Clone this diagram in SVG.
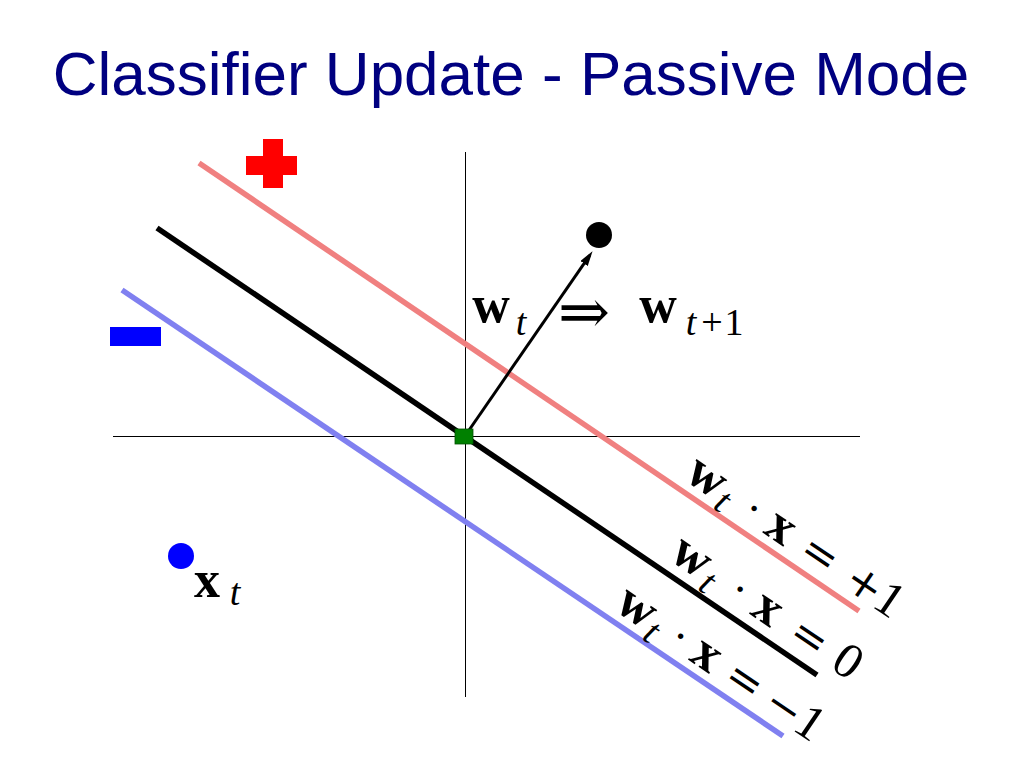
<svg xmlns="http://www.w3.org/2000/svg" width="1024" height="768" viewBox="0 0 1024 768">
<defs>
<style>
.title{font-family:"Liberation Sans",Arial,sans-serif;font-size:62px;fill:#000080}
.m{font-family:"Liberation Serif","Times New Roman",serif;fill:#000;text-anchor:middle}
.b{font-weight:bold;font-size:52px}
.i{font-style:italic;font-size:38px}
.dot{font-size:46px}
.op{font-family:"DejaVu Serif","Liberation Serif",serif;font-size:44px}
.arr{font-family:"DejaVu Serif","Liberation Serif",serif;font-size:62px}
.d{font-size:50px}
.ds{font-size:38px}
.axis{stroke:#000;stroke-width:1;fill:none;shape-rendering:crispEdges}
.bound{fill:none;stroke-width:5.5;stroke-linecap:butt}
</style>
<marker id="ah" markerUnits="userSpaceOnUse" markerWidth="16" markerHeight="10" refX="10" refY="4.5" orient="auto">
<path d="M0,0 L15,4.5 L0,9 z" fill="#000"/>
</marker>
</defs>
<rect width="1024" height="768" fill="#fff"/>
<text id="title" class="title" x="511" y="95" text-anchor="middle">Classifier Update - Passive Mode</text>

<g id="axes">
<line class="axis" x1="465.5" y1="152" x2="465.5" y2="697"/>
<line class="axis" x1="113" y1="436.5" x2="860" y2="436.5"/>
</g>

<g id="connectors">
<line id="line-plus1" class="bound" x1="199" y1="163" x2="859" y2="611" stroke="#F08080"/>
<line id="line-minus1" class="bound" x1="122" y1="290" x2="783" y2="736" stroke="#8080F0"/>
<line id="line-zero" class="bound" x1="157" y1="228" x2="817" y2="675" stroke="#000" stroke-width="6"/>
<line id="arrow-w" x1="465" y1="436" x2="589.7" y2="255.3" stroke="#000" stroke-width="3" marker-end="url(#ah)"/>
</g>

<g id="plus-sign" fill="#FF0000">
<rect x="263" y="139" width="20" height="49"/>
<rect x="246" y="156" width="51" height="19"/>
</g>
<g id="minus-sign">
<rect x="110" y="327" width="51" height="19" fill="#0000FF"/>
</g>

<g id="point-w">
<circle cx="599" cy="235" r="13" fill="#000"/>
</g>
<g id="origin">
<rect x="455" y="429" width="18" height="15" fill="#008000" stroke="#005000" stroke-width="0.8"/>
</g>
<g id="point-x">
<circle cx="181" cy="556" r="13" fill="#0000FF"/>
<text class="m"><tspan class="b" x="207" y="597">x</tspan><tspan class="i" x="235" y="605">t</tspan></text>
</g>

<g id="label-update">
<text class="m"><tspan class="b" x="491" y="322">w</tspan><tspan class="i" x="521" y="335">t</tspan><tspan class="arr" x="584" y="333">⇒</tspan><tspan class="b" x="658" y="322">w</tspan><tspan class="i" x="691" y="335">t</tspan><tspan class="ds" x="712" y="335">+</tspan><tspan class="ds" x="734" y="335">1</tspan></text>
</g>

<g id="label-plus1" transform="translate(680,490) rotate(34.1)">
<text class="m"><tspan class="b" x="15" y="-11">w</tspan><tspan class="i" x="41.6" y="-3">t</tspan><tspan class="dot" x="71.7" y="-11">·</tspan><tspan class="b" x="104.6" y="-11">x</tspan><tspan class="op" x="151.9" y="-11">=</tspan><tspan class="op" x="205.6" y="-11">+</tspan><tspan class="d" x="235.2" y="-11">1</tspan></text>
</g>

<g id="label-zero" transform="translate(660,569) rotate(34.1)">
<text class="m"><tspan class="b" x="19.4" y="-13">w</tspan><tspan class="i" x="46.8" y="-4">t</tspan><tspan class="dot" x="77.6" y="-13">·</tspan><tspan class="b" x="111.5" y="-13">x</tspan><tspan class="op" x="162.2" y="-13">=</tspan><tspan class="d" x="207.4" y="-13">0</tspan></text>
</g>

<g id="label-minus1" transform="translate(610,619) rotate(34.0)">
<text class="m"><tspan class="b" x="15.6" y="-10">w</tspan><tspan class="i" x="41.7" y="-1">t</tspan><tspan class="dot" x="68.2" y="-10">·</tspan><tspan class="b" x="100.2" y="-10">x</tspan><tspan class="op" x="146.1" y="-10">=</tspan><tspan class="op" x="193.6" y="-10">−</tspan><tspan class="d" x="224.1" y="-10">1</tspan></text>
</g>
</svg>
